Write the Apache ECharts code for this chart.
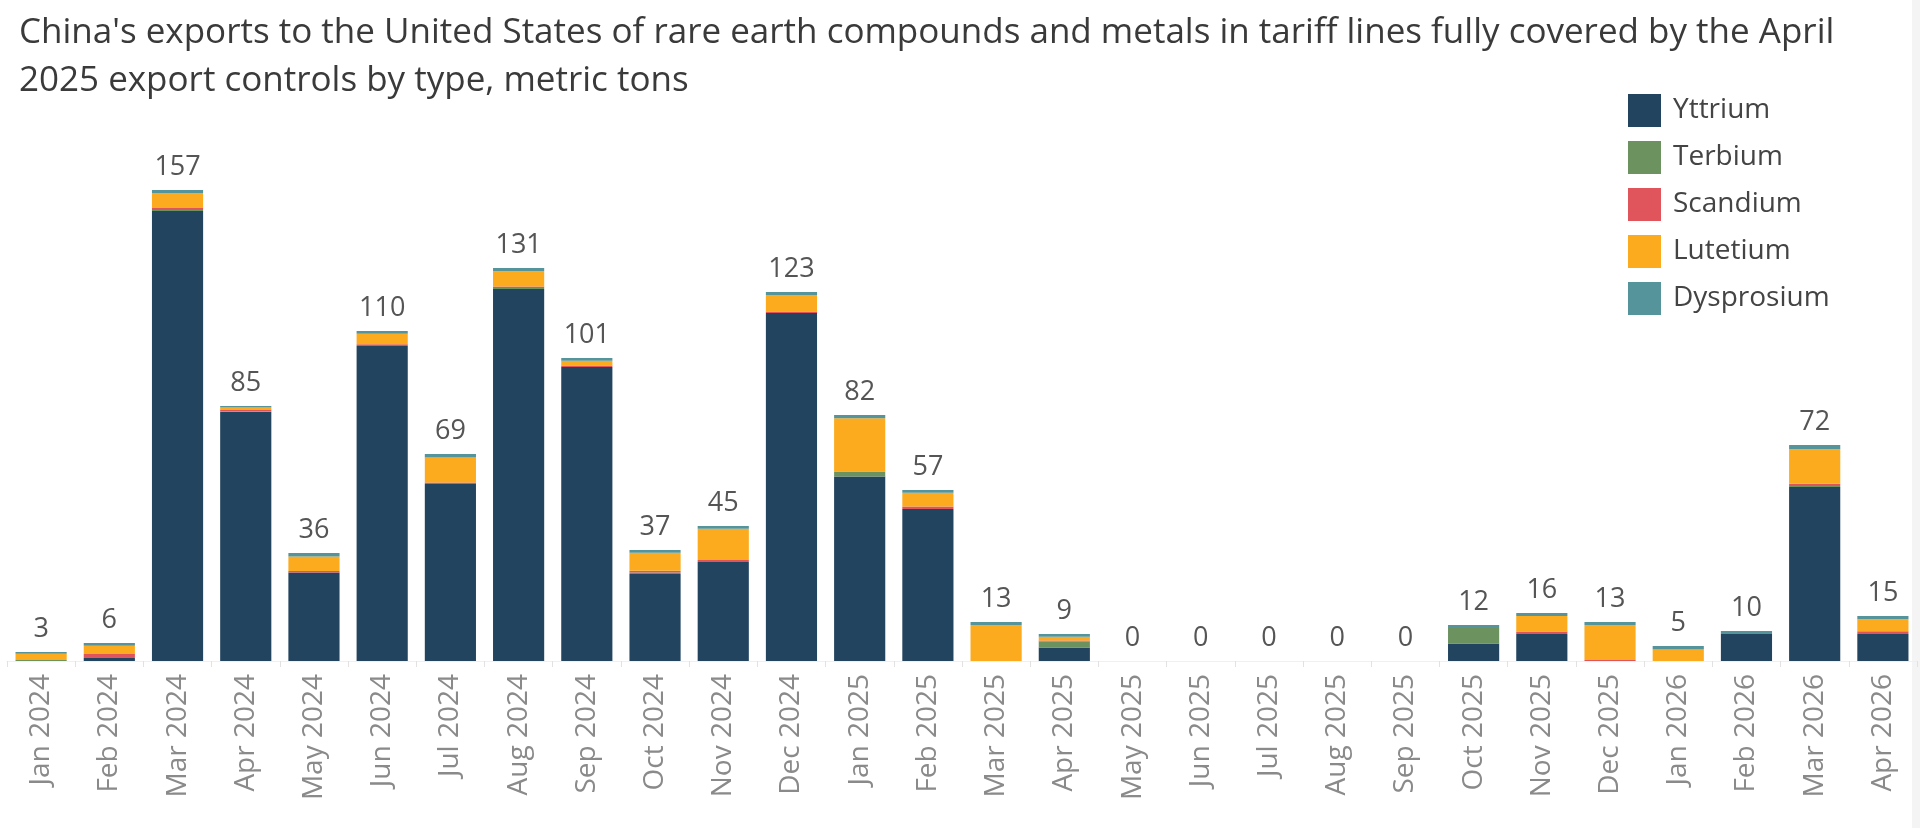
<!DOCTYPE html>
<html>
<head>
<meta charset="utf-8">
<title>China rare earth exports to the US</title>
<script src="https://cdn.jsdelivr.net/npm/echarts@6/dist/echarts.min.js"></script>
<style>
  html, body { margin: 0; padding: 0; background: #fff; }
  #chart { width: 1920px; height: 828px; }
</style>
</head>
<body>
<div id="chart"></div>
<script>
// ==============================
// data (metric tons)
// ==============================
const months = [
  'Jan 2024', 'Feb 2024', 'Mar 2024', 'Apr 2024', 'May 2024', 'Jun 2024',
  'Jul 2024', 'Aug 2024', 'Sep 2024', 'Oct 2024', 'Nov 2024', 'Dec 2024',
  'Jan 2025', 'Feb 2025', 'Mar 2025', 'Apr 2025', 'May 2025', 'Jun 2025',
  'Jul 2025', 'Aug 2025', 'Sep 2025', 'Oct 2025', 'Nov 2025', 'Dec 2025',
  'Jan 2026', 'Feb 2026', 'Mar 2026', 'Apr 2026'
];

const yttrium    = [0, 1, 150, 83, 29.5, 105, 59, 124, 98, 29, 33, 116, 61.5, 50.7, 0, 4.5, 0, 0, 0, 0, 0, 5.8, 9, 0, 0, 9, 58, 9];
const terbium    = [0.3, 0.3, 0.3, 0.2, 0, 0, 0, 0.3, 0, 0.5, 0, 0, 1.5, 0, 0, 2, 0, 0, 0, 0, 0, 5.2, 0, 0, 0, 0, 0.3, 0];
const scandium   = [0, 1, 0.7, 0.5, 0.5, 0.6, 0.5, 0.5, 0.5, 0.6, 0.7, 0.5, 0.2, 0.8, 0, 0.3, 0, 0, 0, 0, 0, 0, 0.8, 0.3, 0, 0, 0.8, 0.9];
const lutetium   = [2.1, 2.8, 5, 0.8, 4.8, 3.5, 8.3, 5.1, 1.6, 6, 10.4, 5.5, 17.7, 4.6, 12, 1.3, 0, 0, 0, 0, 0, 0, 5.2, 11.7, 3.8, 0, 11.5, 4];
const dysprosium = [0.6, 0.9, 1, 0.5, 1.2, 0.9, 1.2, 1.1, 0.9, 0.9, 0.9, 1, 1.1, 0.9, 1, 0.9, 0, 0, 0, 0, 0, 1, 1, 1, 1.2, 1, 1.4, 1.1];

const totalLabels = [3, 6, 157, 85, 36, 110, 69, 131, 101, 37, 45, 123, 82, 57, 13, 9, 0, 0, 0, 0, 0, 12, 16, 13, 5, 10, 72, 15];

const seriesNames = ['Yttrium', 'Terbium', 'Scandium', 'Lutetium', 'Dysprosium'];
const seriesData = [yttrium, terbium, scandium, lutetium, dysprosium];
const seriesColors = ['#22445f', '#6c9260', '#e0555b', '#fbab1d', '#56949b'];

const FONT = '"Open Sans", "Noto Sans", sans-serif';

// ==============================
// chart
// ==============================
const chart = echarts.init(document.getElementById('chart'), null, { renderer: 'canvas' });

const stackSeries = seriesNames.map((name, i) => ({
  name,
  type: 'bar',
  stack: 'total',
  data: seriesData[i],
  barCategoryGap: '25%',
  itemStyle: { color: seriesColors[i] },
  emphasis: { disabled: true }
}));

// transparent overlay bar that only carries the total label
const labelSeries = {
  name: 'Total',
  type: 'bar',
  data: totalLabels,
  barGap: '-100%',
  itemStyle: { color: 'rgba(0,0,0,0)' },
  silent: true,
  z: 10,
  label: {
    show: true,
    position: 'top',
    distance: 9,
    color: '#555',
    fontFamily: FONT,
    fontSize: 27
  }
};

chart.setOption({
  backgroundColor: '#fff',
  animation: false,
  textStyle: { fontFamily: FONT },
  title: {
    text: "China's exports to the United States of rare earth compounds and metals in tariff lines fully covered by the April\n2025 export controls by type, metric tons",
    left: 14,
    top: 4,
    textStyle: {
      fontFamily: FONT,
      fontWeight: 'normal',
      fontSize: 35,
      lineHeight: 48,
      color: '#3a3a3a'
    }
  },
  legend: {
    data: seriesNames,
    orient: 'vertical',
    left: 1623,
    top: 89,
    icon: 'rect',
    itemWidth: 33,
    itemHeight: 33,
    itemGap: 14,
    selectedMode: false,
    textStyle: {
      fontFamily: FONT,
      fontSize: 28,
      color: '#444',
      padding: [0, 0, 0, 7]
    }
  },
  grid: {
    left: 7,
    right: 3,
    top: 190,
    bottom: 167,
    containLabel: false
  },
  xAxis: {
    type: 'category',
    data: months,
    offset: 5,
    axisLine: { show: true, lineStyle: { color: '#f0f0f0', width: 1 } },
    axisTick: { show: true, alignWithLabel: false, length: 6, lineStyle: { color: '#e2e2e2' } },
    axisLabel: {
      rotate: 90,
      interval: 0,
      margin: 8,
      color: '#8a8a8a',
      fontFamily: FONT,
      fontSize: 28
    }
  },
  yAxis: {
    type: 'value',
    min: 0,
    max: 157,
    show: false,
    splitLine: { show: false }
  },
  graphic: [{
    type: 'rect',
    shape: { x: 1912, y: 0, width: 8, height: 828 },
    style: { fill: '#f4f4f4' },
    silent: true
  }],
  series: [...stackSeries, labelSeries]
});
</script>
</body>
</html>
